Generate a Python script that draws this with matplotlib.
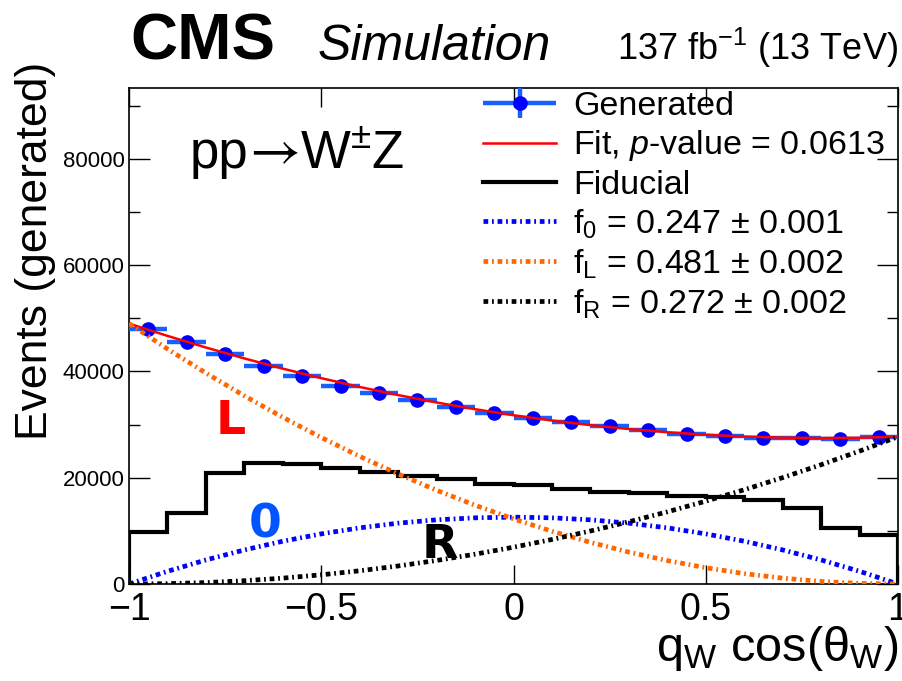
import numpy as np
import matplotlib.pyplot as plt
from matplotlib.container import ErrorbarContainer
from matplotlib.legend_handler import HandlerErrorbar
from matplotlib.transforms import offset_copy

plt.rcParams['font.family'] = ['Liberation Sans', 'DejaVu Sans']
plt.rcParams['mathtext.fontset'] = 'custom'
plt.rcParams['mathtext.rm'] = 'Liberation Sans'
plt.rcParams['mathtext.it'] = 'Liberation Sans:italic'
plt.rcParams['mathtext.bf'] = 'Liberation Sans:bold'
plt.rcParams['mathtext.default'] = 'regular'
plt.rcParams['mathtext.fallback'] = 'stixsans'

# 20 bins in q_W cos(theta_W)
bin_edges = np.linspace(-1, 1, 21)
bin_centers = 0.5 * (bin_edges[:-1] + bin_edges[1:])

generated = [48000, 45500, 43300, 41100, 39100, 37300, 35900, 34600, 33300, 32200,
             31300, 30500, 29700, 28900, 28200, 27800, 27550, 27400, 27200, 27700]
generated_err = [219, 213, 208, 203, 198, 193, 189, 186, 182, 179,
                 177, 175, 172, 170, 168, 167, 166, 166, 165, 166]

fiducial = [9850, 13300, 20800, 22850, 22600, 21800, 21000, 20400, 19700, 18850,
            18600, 17800, 17400, 17050, 16650, 16300, 15800, 14250, 10450, 9200]

# fitted curve and its helicity components, sampled every 0.1
curve_x = np.linspace(-1, 1, 21)
fit_curve = [48988, 46671, 44485, 42432, 40510, 38722, 37063, 35537, 34144, 32881, 31751,
             30752, 29886, 29152, 28550, 28080, 27741, 27533, 27458, 27515, 27704]
comp_0 = [0, 2390, 4528, 6415, 8050, 9434, 10566, 11446, 12075, 12452, 12578,
          12452, 12075, 11446, 10566, 9434, 8050, 6415, 4528, 2390, 0]
comp_L = [48988, 44212, 39680, 35394, 31352, 27556, 24004, 20697, 17636, 14819, 12247,
          9920, 7838, 6001, 4409, 3062, 1960, 1102, 490, 122, 0]
comp_R = [0, 69, 277, 623, 1108, 1732, 2493, 3394, 4433, 5610, 6926,
          8380, 9973, 11705, 13575, 15584, 17731, 20016, 22440, 25003, 27704]

fig = plt.figure(figsize=(9.03, 6.81), dpi=100)
ax = fig.add_axes([0.1429, 0.1424, 0.8516, 0.7284])

dashdot = (0, (1.0, 0.8, 0.38, 0.8))

gen = ax.errorbar(bin_centers, generated, xerr=0.05, yerr=generated_err, fmt='o',
                  color='#1560ff', mfc='#0000ff', mec='#0000ff', ms=9.5,
                  elinewidth=3.2, capsize=0, zorder=3, label='Generated')
fit_line, = ax.plot(curve_x, fit_curve, color='#ff0000', lw=1.8, zorder=4,
                    label=r'Fit, $\mathit{p}$-value = 0.0613')
fid = ax.stairs(fiducial, bin_edges, color='black', lw=3, zorder=2, label='Fiducial')
fid_handle, = ax.plot([], [], color='black', lw=3)
l0, = ax.plot(curve_x, comp_0, color='#0000ff', lw=3.4, ls=dashdot, zorder=5,
              label=r'f$_{0}$ = 0.247 $\pm$ 0.001')
lL, = ax.plot(curve_x, comp_L, color='#ff6600', lw=3.4, ls=dashdot, zorder=5,
              label=r'f$_{L}$ = 0.481 $\pm$ 0.002')
lR, = ax.plot(curve_x, comp_R, color='black', lw=3.4, ls=dashdot, zorder=5,
              label=r'f$_{R}$ = 0.272 $\pm$ 0.002')
for ln in (l0, lL, lR):
    ln.set_dash_capstyle('butt')

ax.set_xlim(-1, 1)
ax.set_ylim(0, 93300)
ax.set_xticks([-1, -0.5, 0, 0.5, 1])
ax.set_xticklabels(['\u22121', '\u22120.5', '0', '0.5', '1'])
ax.set_yticks(np.arange(0, 90000, 20000))
ax.set_yticks(np.arange(0, 93300, 10000), minor=True)
ax.tick_params(axis='both', which='both', direction='in', top=True, right=True, width=1)
ax.tick_params(axis='x', which='major', length=14, labelsize=27, pad=6)
ax.tick_params(axis='y', which='major', length=15, labelsize=16, pad=3)
ax.tick_params(axis='y', which='minor', length=8)
for s in ax.spines.values():
    s.set_linewidth(1.2)

ax.set_xlabel(r'q$_{W}$ cos($\theta_{W}$)', fontsize=35, loc='right')
ax.xaxis.set_label_coords(1.0, -0.08)
ax.set_ylabel('Events (generated)', fontsize=32, loc='top')
ax.yaxis.set_label_coords(-0.095, 1.052)

ax.text(-0.735, 30490, 'L', color='#ff0000', fontsize=34, fontweight='bold',
        family='DejaVu Sans', ha='center', va='center')
ax.text(-0.646, 11100, '0', color='#0055ff', fontsize=34, fontweight='bold',
        family='DejaVu Sans', ha='center', va='center')
ax.text(-0.191, 7340, 'R', color='black', fontsize=34, fontweight='bold',
        family='DejaVu Sans', ha='center', va='center')

# process label, written in three pieces so the arrow can use a thin-stroke font
renderer = fig.canvas.get_renderer()
proc_y = 1 - 168 / 681
t_pp = fig.text(190 / 903, proc_y, 'pp', fontsize=38)
w_pp = t_pp.get_window_extent(renderer).width
t_arrow = fig.text(190 / 903, proc_y, '\u2192', fontsize=40, family='STIXGeneral',
                   transform=offset_copy(fig.transFigure, fig=fig, x=w_pp, y=2, units='dots'))
w_arrow = t_arrow.get_window_extent(renderer).width
fig.text(190 / 903, proc_y, 'W$^{\\pm}$Z', fontsize=38,
         transform=offset_copy(fig.transFigure, fig=fig, x=w_pp + w_arrow, y=0, units='dots'))

fig.text(130 / 903, 1 - 60 / 681, 'CMS', fontsize=47, fontweight='bold')
fig.text(318 / 903, 1 - 60 / 681, 'Simulation', fontsize=36, style='italic')
fig.text(898 / 903, 1 - 60 / 681, r'137 fb$^{-1}$ (13 TeV)', fontsize=26, ha='right')

handles = [gen, fit_line, fid_handle, l0, lL, lR]
labels = ['Generated', fit_line.get_label(), 'Fiducial',
          l0.get_label(), lL.get_label(), lR.get_label()]
fig.legend(handles, labels, loc='upper left', bbox_to_anchor=(483 / 903, 1 - 91 / 681),
           frameon=False, fontsize=24.5, handlelength=2.15, handletextpad=0.5,
           labelspacing=0.19, borderpad=0, borderaxespad=0,
           handler_map={ErrorbarContainer: HandlerErrorbar(xerr_size=1.08, yerr_size=0.45)})

fig.savefig('out.png', dpi=100)
